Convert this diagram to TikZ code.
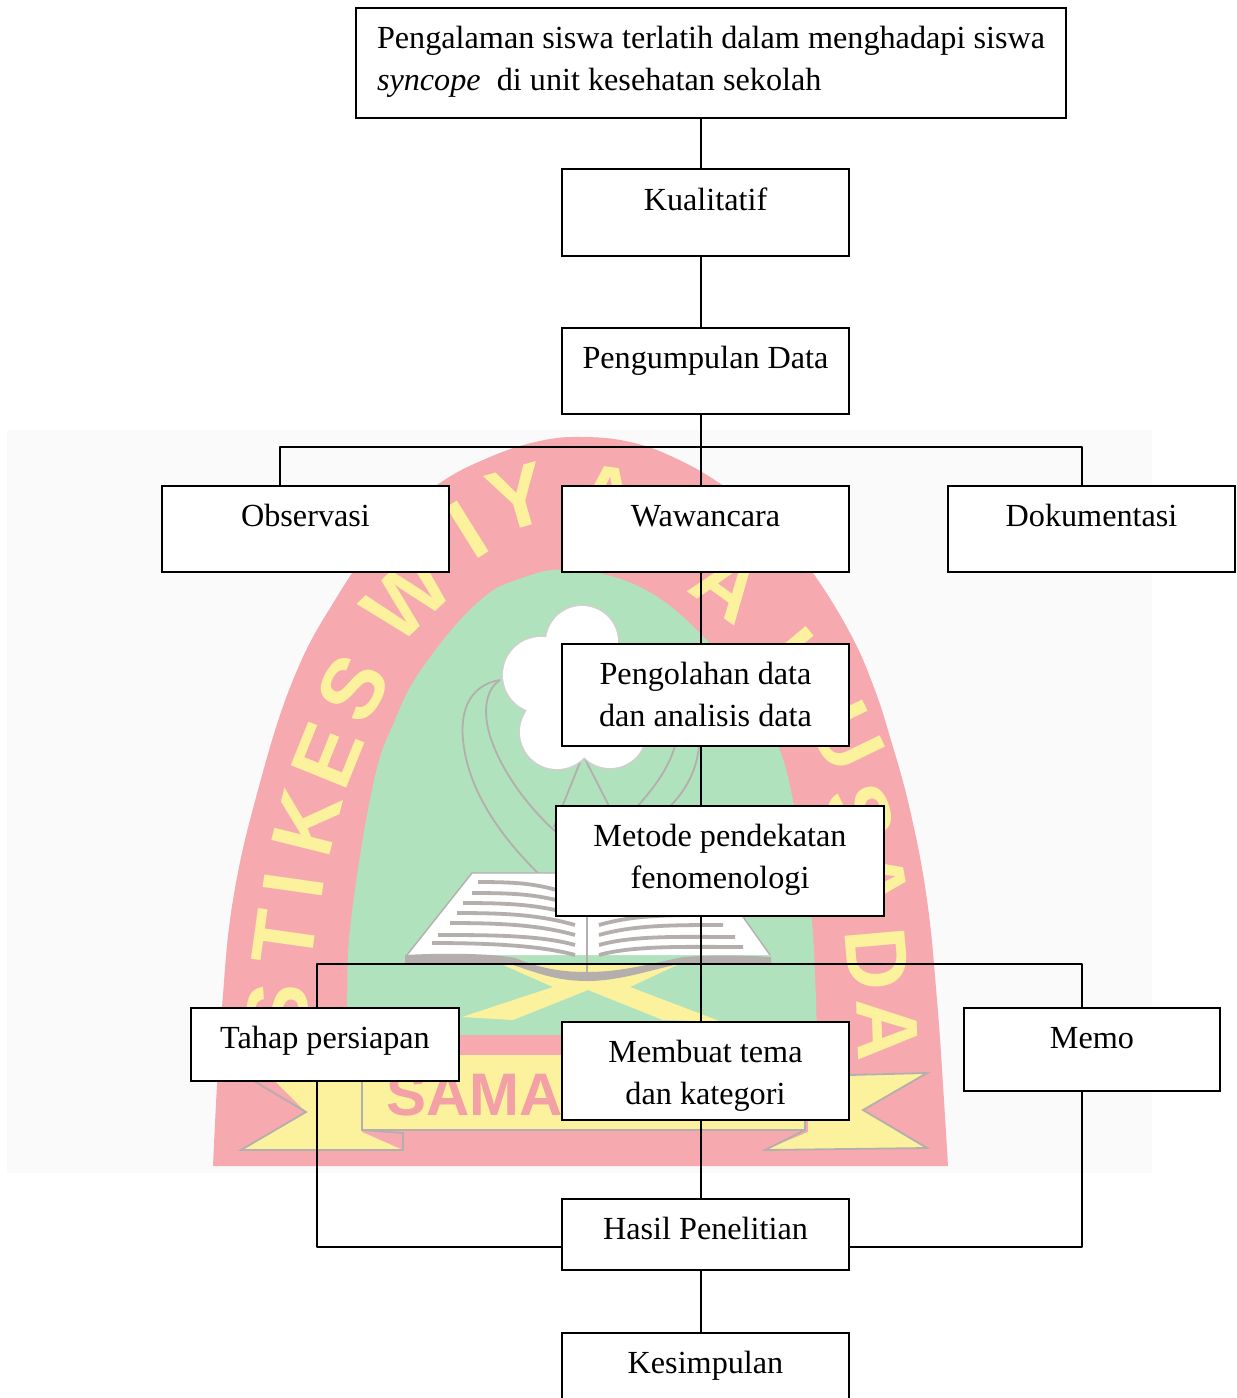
\documentclass[tikz,border=0pt]{standalone}
\usepackage{fontspec}
\setmainfont{Liberation Serif}
\newfontfamily\wmfont{Liberation Sans}[BoldFont=Liberation Sans Bold]
\definecolor{wmbg}{HTML}{FAFAFA}
\definecolor{wmred}{HTML}{F6A9AE}
\definecolor{wmgreen}{HTML}{B0E2BE}
\definecolor{wmyellow}{HTML}{FCF29E}
\definecolor{wmgray}{HTML}{B4AFAC}
\definecolor{wmsama}{HTML}{F3A0A6}
\tikzset{
  flowbox/.style={draw=black,line width=1.8pt,fill=white,inner sep=0pt,font=\fontsize{32.2}{42}\selectfont},
  link/.style={draw=black,line width=1.8pt,line join=round},
  wmletter/.style={font=\wmfont\bfseries\fontsize{87}{87}\selectfont,text=wmyellow,inner sep=0pt},
  wmline/.style={draw=wmgray,line width=1.8pt},
  wmrule/.style={draw=wmgray,line width=3.8pt}
}
% name, left, top, right, bottom, baseline offset, content
\newcommand\flownode[7]{%
  \pgfmathsetmacro\bw{#4-#2}\pgfmathsetmacro\bh{#5-#3}%
  \pgfmathsetmacro\cx{(#2+#4)/2}\pgfmathsetmacro\cy{(#3+#5)/2}%
  \node[flowbox,minimum width=\bw pt,minimum height=\bh pt] (#1) at (\cx,\cy) {\raisebox{#6pt}[0pt][0pt]{#7}};}
\newcommand\twolines[2]{\begin{tabular}[c]{@{}c@{}}#1\\#2\end{tabular}}
\begin{document}
\begin{tikzpicture}[x=1pt,y=-1pt]
\clip (0,0) rectangle (1237,1398);
\fill[white] (0,0) rectangle (1237,1398);
% watermark
\fill[wmbg] (7,430) rectangle (1152,1173);
\fill[wmred] plot[smooth,tension=0.7] coordinates {(213,1166) (217,1085) (222,1007) (233,900) (258,790) (293,680) (335,600) (385,530) (437,485) (490,457) (540,441) (583,437) (630,442) (675,458) (725,487) (778,530) (813,573) (850,633) (873,685) (890,737) (910,810) (927,900) (937,1000) (943,1085) (948,1166)} -- cycle;
\foreach \ch/\x/\y/\r [count=\n] in {S/278/1012/86,T/285/938/82,I/294/885/82,K/307/823/76,E/328/755/68,S/353/688/60,W/407/597/44,I/468/530/32,Y/518/498/16,A/608/497/-8,A/728/585/-36,H/800/665/-50,U/847/737/-64,S/860/815/-72,A/875/880/-80,D/877/959/-85,A/887/1030/-88}
  \node[wmletter,rotate=\r] (wm\n) at (\x,\y) {\ch};
\fill[wmgreen] plot[smooth,tension=0.7] coordinates {(346,1035) (347,1000) (351,920) (373,785) (395,720) (423,667) (477,603) (522,578) (572,570) (640,587) (700,633) (745,690) (777,743) (795,810) (810,900) (816,1000) (816,1035)} -- cycle;
% flower stems
\draw[wmline] (500,680) .. controls (470,685) and (460,710) .. (463,740) .. controls (468,790) and (500,840) .. (556,890);
\draw[wmline] (500,680) .. controls (485,690) and (485,710) .. (487,723) .. controls (492,755) and (520,800) .. (556,832);
\draw[wmline] (583,755) -- (554,827);
\draw[wmline] (583,755) -- (610,808);
\draw[wmline] (675,746) .. controls (668,770) and (652,790) .. (636,808);
\draw[wmline] (699,746) .. controls (697,770) and (685,792) .. (670,806);
% flower
\foreach \x/\y/\r in {582/642/36,541/675/38,557/732/37,610/732/36,630/680/36,583/690/40}
  \fill[wmgray!60] (\x,\y) circle[radius=\r+1.5];
\foreach \x/\y/\r in {582/642/36,541/675/38,557/732/37,610/732/36,630/680/36,583/690/40}
  \fill[white] (\x,\y) circle[radius=\r];
% cross under the book
\fill[wmyellow] (503,965) -- (553,987) -- (462,1017) -- (513,1020) -- (588,990) -- (663,1020) -- (722,1022) -- (630,987) -- (677,965) -- cycle;
% book
\fill[white] (472,873) -- (712,873) -- (770,955) -- (407,955) -- cycle;
\draw[wmline,line width=1.4pt] (407,955) -- (472,873) -- (712,873) -- (770,955);
\foreach \sx/\sy/\ex/\ey in {478/882/575/895,472/893/575/905,463/903/575/915,457/913/575/925,450/923/575/935,438/935/575/945,432/943/575/955}
  \draw[wmrule] (\sx,\sy) .. controls (\sx+50,\sy) and (\ex-35,\ey-10) .. (\ex,\ey);
\foreach \sx/\sy/\ex/\ey in {697/885/599/895,703/895/599/905,709/905/599/915,716/915/599/925,723/925/599/935,735/937/599/945,743/947/599/955}
  \draw[wmrule] (\sx,\sy) .. controls (\sx-50,\sy) and (\ex+35,\ey-10) .. (\ex,\ey);
\draw[wmline,line width=1.2pt] (587,880) -- (587,972);
\fill[wmgray] (405,955) .. controls (440,953) and (490,953) .. (515,958) .. controls (540,968) and (560,972) .. (587,972)
  .. controls (620,972) and (645,965) .. (683,957) .. controls (710,955) and (740,955) .. (771,957)
  -- (771,963) -- (683,963) .. controls (650,970) and (620,981) .. (587,981)
  .. controls (555,981) and (535,972) .. (510,964) -- (405,963) -- cycle;
% ribbon
\fill[wmyellow] (254,1060) -- (362,1060) -- (362,1132) -- (403,1150) -- (241,1150) -- (306,1112) -- cycle;
\fill[wmyellow] (927,1073) -- (808,1075) -- (808,1132) -- (765,1150) -- (927,1148) -- (863,1110) -- cycle;
\fill[wmyellow] (362,1055) rectangle (805,1130);
\draw[wmline] (362,1055) -- (362,1130) -- (805,1130);
\draw[wmline] (254,1081) -- (306,1112) -- (241,1150) -- (403,1150) -- (403,1133) -- (362,1130);
\draw[wmline] (850,1075) -- (927,1073) -- (863,1110) -- (927,1148) -- (765,1150) -- (805,1130) -- (805,1120);
\node[font=\wmfont\bfseries\fontsize{60}{60}\selectfont,text=wmsama,inner sep=0pt,anchor=base west] (wmsama) at (386,1115) {SAMA};
% flow boxes
\coordinate (spine) at (701,0);
\coordinate (leftA) at (280,447);
\coordinate (rightA) at (1082,447);
\coordinate (leftB) at (317,964);
\coordinate (rightB) at (1082,964);
\coordinate (joinRow) at (0,1247);
\flownode{title}{356}{8}{1066}{118}{-4}{\begin{tabular}[c]{@{}l@{}}Pengalaman siswa terlatih dalam menghadapi siswa\\\textit{syncope}\ \ di unit kesehatan sekolah\end{tabular}}
\flownode{kual}{562}{169}{849}{256}{2}{Kualitatif}
\flownode{kumpul}{562}{328}{849}{414}{3}{Pengumpulan Data}
\flownode{obs}{162}{486}{449}{572}{3}{Observasi}
\flownode{waw}{562}{486}{849}{572}{3}{Wawancara}
\flownode{dok}{948}{486}{1235}{572}{3}{Dokumentasi}
\flownode{olah}{562}{644}{849}{746}{-8}{\twolines{Pengolahan data}{dan analisis data}}
\flownode{metode}{556}{806}{884}{916}{-4}{\twolines{Metode pendekatan}{fenomenologi}}
\flownode{tahap}{191}{1008}{459}{1081}{-4}{Tahap persiapan}
\flownode{tema}{562}{1022}{849}{1120}{-10}{\twolines{Membuat tema}{dan kategori}}
\flownode{memo}{964}{1008}{1220}{1091}{1}{Memo}
\flownode{hasil}{562}{1199}{849}{1270}{-5}{Hasil Penelitian}
\flownode{simpul}{562}{1333}{849}{1430}{8}{Kesimpulan}
% connectors
\draw[link] (title.south -| spine) -- (kual.north -| spine);
\draw[link] (kual.south -| spine) -- (kumpul.north -| spine);
\draw[link] (kumpul.south -| spine) -- (waw.north -| spine);
\draw[link] (obs.north -| leftA) -- (leftA) -- (rightA) -- (dok.north -| rightA);
\draw[link] (waw.south -| spine) -- (olah.north -| spine);
\draw[link] (olah.south -| spine) -- (metode.north -| spine);
\draw[link] (metode.south -| spine) -- (tema.north -| spine);
\draw[link] (tahap.north -| leftB) -- (leftB) -- (rightB) -- (memo.north -| rightB);
\draw[link] (tema.south -| spine) -- (hasil.north -| spine);
\draw[link] (hasil.south -| spine) -- (simpul.north -| spine);
\draw[link] (tahap.south -| leftB) -- (leftB |- joinRow) -- (hasil.west |- joinRow);
\draw[link] (memo.south -| rightB) -- (rightB |- joinRow) -- (hasil.east |- joinRow);
\end{tikzpicture}
\end{document}
